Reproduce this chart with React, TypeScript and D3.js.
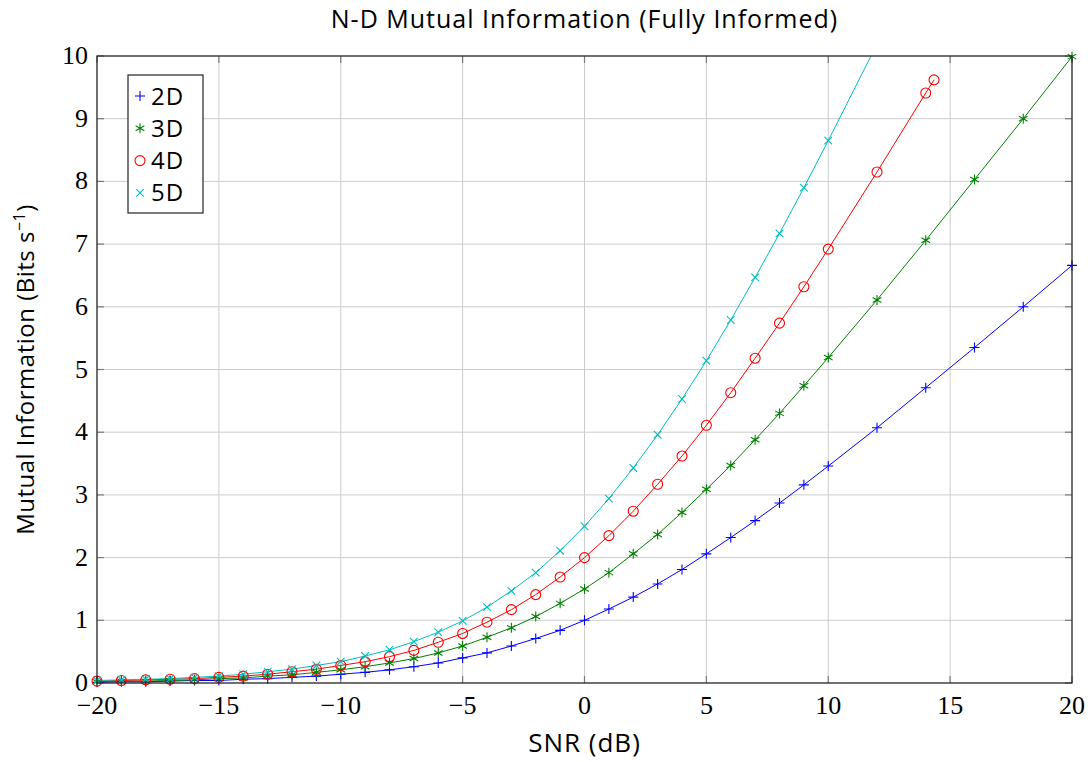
import React from "react";
import * as d3 from "d3";

// SNR values (dB) at which each curve was sampled
const snr2D = [-20, -19, -18, -17, -16, -15, -14, -13, -12, -11, -10, -9, -8, -7, -6, -5, -4, -3, -2, -1, 0, 1, 2, 3, 4, 5, 6, 7, 8, 9, 10, 12, 14, 16, 18, 20];
const snr3D = snr2D;
const snr4D = [-20, -19, -18, -17, -16, -15, -14, -13, -12, -11, -10, -9, -8, -7, -6, -5, -4, -3, -2, -1, 0, 1, 2, 3, 4, 5, 6, 7, 8, 9, 10, 12, 14, 14.34];
const snr5D = [-20, -19, -18, -17, -16, -15, -14, -13, -12, -11, -10, -9, -8, -7, -6, -5, -4, -3, -2, -1, 0, 1, 2, 3, 4, 5, 6, 7, 8, 9, 10, 12];

// mutual information (bits/s)
const mi2D = [0.01, 0.02, 0.02, 0.03, 0.04, 0.04, 0.06, 0.07, 0.09, 0.11, 0.14, 0.17, 0.21, 0.26, 0.32, 0.4, 0.48, 0.59, 0.71, 0.84, 1.0, 1.18, 1.37, 1.58, 1.81, 2.06, 2.32, 2.59, 2.87, 3.16, 3.46, 4.07, 4.71, 5.35, 6.0, 6.66];
const mi3D = [0.02, 0.03, 0.03, 0.04, 0.05, 0.07, 0.08, 0.11, 0.13, 0.17, 0.21, 0.26, 0.32, 0.39, 0.48, 0.59, 0.73, 0.88, 1.06, 1.27, 1.5, 1.76, 2.06, 2.37, 2.72, 3.09, 3.47, 3.88, 4.3, 4.74, 5.19, 6.11, 7.06, 8.03, 9.0, 9.99];
const mi4D = [0.03, 0.04, 0.05, 0.06, 0.07, 0.09, 0.11, 0.14, 0.18, 0.22, 0.28, 0.34, 0.42, 0.52, 0.65, 0.79, 0.97, 1.17, 1.41, 1.69, 2.0, 2.35, 2.74, 3.17, 3.62, 4.11, 4.63, 5.18, 5.74, 6.32, 6.92, 8.15, 9.41, 9.62];
const mi5D = [0.04, 0.05, 0.06, 0.07, 0.09, 0.11, 0.14, 0.18, 0.22, 0.28, 0.34, 0.43, 0.53, 0.66, 0.81, 0.99, 1.21, 1.47, 1.76, 2.11, 2.5, 2.94, 3.43, 3.96, 4.53, 5.14, 5.79, 6.47, 7.17, 7.9, 8.65, 10.19];

const seriesNames = ["2D", "3D", "4D", "5D"];
const xTicks = [-20, -15, -10, -5, 0, 5, 10, 15, 20];
const yTicks = [0, 1, 2, 3, 4, 5, 6, 7, 8, 9, 10];

const colors = ["#0000ff", "#008000", "#ff0000", "#00bfbf"];
const markers = ["plus", "asterisk", "circle", "cross"];

const W = 1092;
const H = 762;
const left = 97, right = 1072, top = 56, bottom = 683;

const tickFont = "'Liberation Serif', 'DejaVu Serif', serif";
const labelFont = "'Open Sans', 'Noto Sans', sans-serif";

function Marker({ kind, x, y, color }: { kind: string; x: number; y: number; color: string }) {
  const s = 5;
  if (kind === "plus") {
    return <path d={`M${x - s},${y}H${x + s}M${x},${y - s}V${y + s}`} stroke={color} strokeWidth={1.1} fill="none" />;
  }
  if (kind === "cross") {
    const c = 3.8;
    return <path d={`M${x - c},${y - c}L${x + c},${y + c}M${x - c},${y + c}L${x + c},${y - c}`} stroke={color} strokeWidth={1.1} fill="none" />;
  }
  if (kind === "asterisk") {
    const a = s * Math.cos(Math.PI / 6), b = s * Math.sin(Math.PI / 6);
    return (
      <path
        d={`M${x},${y - s}V${y + s}M${x - a},${y - b}L${x + a},${y + b}M${x - a},${y + b}L${x + a},${y - b}`}
        stroke={color}
        strokeWidth={1.1}
        fill="none"
      />
    );
  }
  return <circle cx={x} cy={y} r={5} stroke={color} strokeWidth={1.1} fill="none" />;
}

export default function App() {
  const x = d3.scaleLinear().domain([-20, 20]).range([left, right]);
  const y = d3.scaleLinear().domain([0, 10]).range([bottom, top]);

  const series = [
    { xs: snr2D, ys: mi2D },
    { xs: snr3D, ys: mi3D },
    { xs: snr4D, ys: mi4D },
    { xs: snr5D, ys: mi5D },
  ];

  const line = d3
    .line<[number, number]>()
    .x((d) => x(d[0]))
    .y((d) => y(d[1]));

  return (
    <svg width={W} height={H} style={{ position: "absolute", left: 0, top: 0, background: "#fff" }}>
      <defs>
        <clipPath id="plotClip">
          <rect x={left} y={top} width={right - left} height={bottom - top} />
        </clipPath>
        <clipPath id="markClip">
          <rect x={left - 6} y={top - 6} width={right - left + 12} height={bottom - top + 12} />
        </clipPath>
      </defs>

      {/* grid */}
      <g stroke="#cccccc" strokeWidth={1}>
        {xTicks.map((t) => (
          <line key={"gx" + t} x1={x(t)} x2={x(t)} y1={top} y2={bottom} />
        ))}
        {yTicks.map((t) => (
          <line key={"gy" + t} x1={left} x2={right} y1={y(t)} y2={y(t)} />
        ))}
      </g>

      {/* inward tick marks */}
      <g stroke="#7a7a7a" strokeWidth={1.2}>
        {xTicks.map((t) => (
          <g key={"tx" + t}>
            <line x1={x(t)} x2={x(t)} y1={bottom} y2={bottom - 7} />
            <line x1={x(t)} x2={x(t)} y1={top} y2={top + 7} />
          </g>
        ))}
        {yTicks.map((t) => (
          <g key={"ty" + t}>
            <line x1={left} x2={left + 7} y1={y(t)} y2={y(t)} />
            <line x1={right} x2={right - 7} y1={y(t)} y2={y(t)} />
          </g>
        ))}
      </g>

      {/* curves */}
      <g clipPath="url(#plotClip)">
        {series.map((s, i) => (
          <path
            key={"l" + i}
            d={line(s.xs.map((v, j) => [v, s.ys[j]] as [number, number])) || ""}
            stroke={colors[i]}
            strokeWidth={1}
            fill="none"
          />
        ))}
      </g>
      <g clipPath="url(#markClip)">
        {series.map((s, i) =>
          s.xs.map((v, j) => <Marker key={"m" + i + "-" + j} kind={markers[i]} x={x(v)} y={y(s.ys[j])} color={colors[i]} />)
        )}
      </g>

      {/* frame */}
      <rect x={left} y={top} width={right - left} height={bottom - top} fill="none" stroke="#222" strokeWidth={1.2} />

      {/* tick labels */}
      <g fontFamily={tickFont} fontSize={26} fill="#000">
        {xTicks.map((t) => (
          <text key={"xl" + t} x={x(t)} y={714} textAnchor="middle">
            {t < 0 ? "\u2212" + Math.abs(t) : String(t)}
          </text>
        ))}
        {yTicks.map((t) => (
          <text key={"yl" + t} x={88} y={y(t) + 8} textAnchor="end">
            {t}
          </text>
        ))}
      </g>

      {/* labels */}
      <text x={(left + right) / 2} y={28} textAnchor="middle" fontFamily={labelFont} fontSize={25} letterSpacing={1} fill="#000">
        N-D Mutual Information (Fully Informed)
      </text>
      <text x={(left + right) / 2} y={752} textAnchor="middle" fontFamily={labelFont} fontSize={26} letterSpacing={1} fill="#000">
        SNR (dB)
      </text>
      <text
        transform={`translate(34,${(top + bottom) / 2}) rotate(-90)`}
        textAnchor="middle"
        fontFamily={labelFont}
        fontSize={24}
        letterSpacing={0.5}
        fill="#000"
      >
        Mutual Information (Bits s
        <tspan dy={-9} fontSize={16}>−1</tspan>
        <tspan dy={9}>)</tspan>
      </text>

      {/* legend */}
      <g>
        <rect x={128} y={75} width={75} height={138} fill="#fff" stroke="#222" strokeWidth={1.2} />
        {seriesNames.map((n, i) => (
          <g key={"lg" + n}>
            <Marker kind={markers[i]} x={140} y={96 + i * 32.3} color={colors[i]} />
            <text x={151} y={96 + i * 32.3 + 8.5} fontFamily={labelFont} fontSize={24} letterSpacing={1} fill="#000">
              {n}
            </text>
          </g>
        ))}
      </g>
    </svg>
  );
}
